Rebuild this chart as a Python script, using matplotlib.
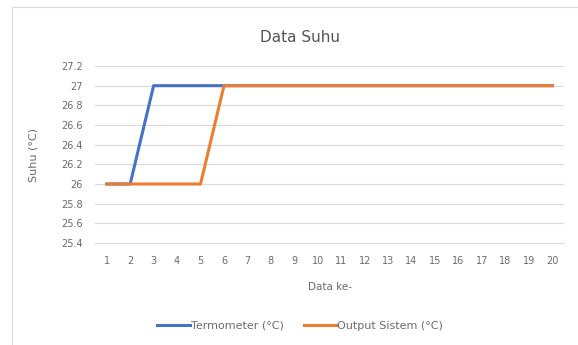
import matplotlib.pyplot as plt
from matplotlib.patches import Rectangle

data_ke = list(range(1, 21))
termometer = [26, 26, 27, 27, 27, 27, 27, 27, 27, 27, 27, 27, 27, 27, 27, 27, 27, 27, 27, 27]
output_sistem = [26, 26, 26, 26, 26, 27, 27, 27, 27, 27, 27, 27, 27, 27, 27, 27, 27, 27, 27, 27]
y_ticks = [25.4, 25.6, 25.8, 26, 26.2, 26.4, 26.6, 26.8, 27, 27.2]

plt.rcParams["font.family"] = ["DejaVu Sans"]
GREY = "#6b6b6b"

fig = plt.figure(figsize=(5.78, 3.45), dpi=100)
# chart frame (cut off at the right and bottom in the original)
fig.patches.append(Rectangle((12 / 578, -0.01), 1.0, 1 - 7 / 345 + 0.01,
                             transform=fig.transFigure, facecolor="white",
                             edgecolor="#d9d9d9", linewidth=0.8, zorder=-10))

ax = fig.add_axes([95 / 578, 1 - 243 / 345, 469 / 578, 177 / 345])
ax.set_facecolor("none")

ax.plot(data_ke, termometer, color="#4472C4", linewidth=2.2, label="Termometer (°C)")
ax.plot(data_ke, output_sistem, color="#ED7D31", linewidth=2.2, label="Output Sistem (°C)")

ax.set_xlim(0.5, 20.5)
ax.set_ylim(25.4, 27.2)
ax.set_xticks(data_ke)
ax.set_yticks(y_ticks)
ax.set_yticklabels([f"{v:g}" for v in y_ticks])
ax.grid(axis="y", color="#d9d9d9", linewidth=0.8)
ax.set_axisbelow(True)
for side in ["top", "right", "left"]:
    ax.spines[side].set_visible(False)
ax.spines["bottom"].set_color("#d9d9d9")
ax.tick_params(axis="x", length=0, labelsize=7, labelcolor=GREY, pad=9)
ax.tick_params(axis="y", length=0, labelsize=7, labelcolor=GREY, pad=9)

fig.text(300 / 578, 1 - 37 / 345, "Data Suhu", fontsize=11, color="#555555",
         ha="center", va="center")
ax.set_ylabel("Suhu (°C)", fontsize=8, color=GREY)
ax.yaxis.set_label_coords(-(95 - 38) / 469, 0.5)
ax.set_xlabel("Data ke-", fontsize=7.5, color=GREY, labelpad=12)

fig.legend(loc="center", bbox_to_anchor=(300 / 578, 1 - 326 / 345), ncol=2,
           frameon=False, fontsize=8, labelcolor=GREY, handlelength=3.0,
           handletextpad=0.05, columnspacing=1.8)

fig.savefig("out.png", dpi=100)
